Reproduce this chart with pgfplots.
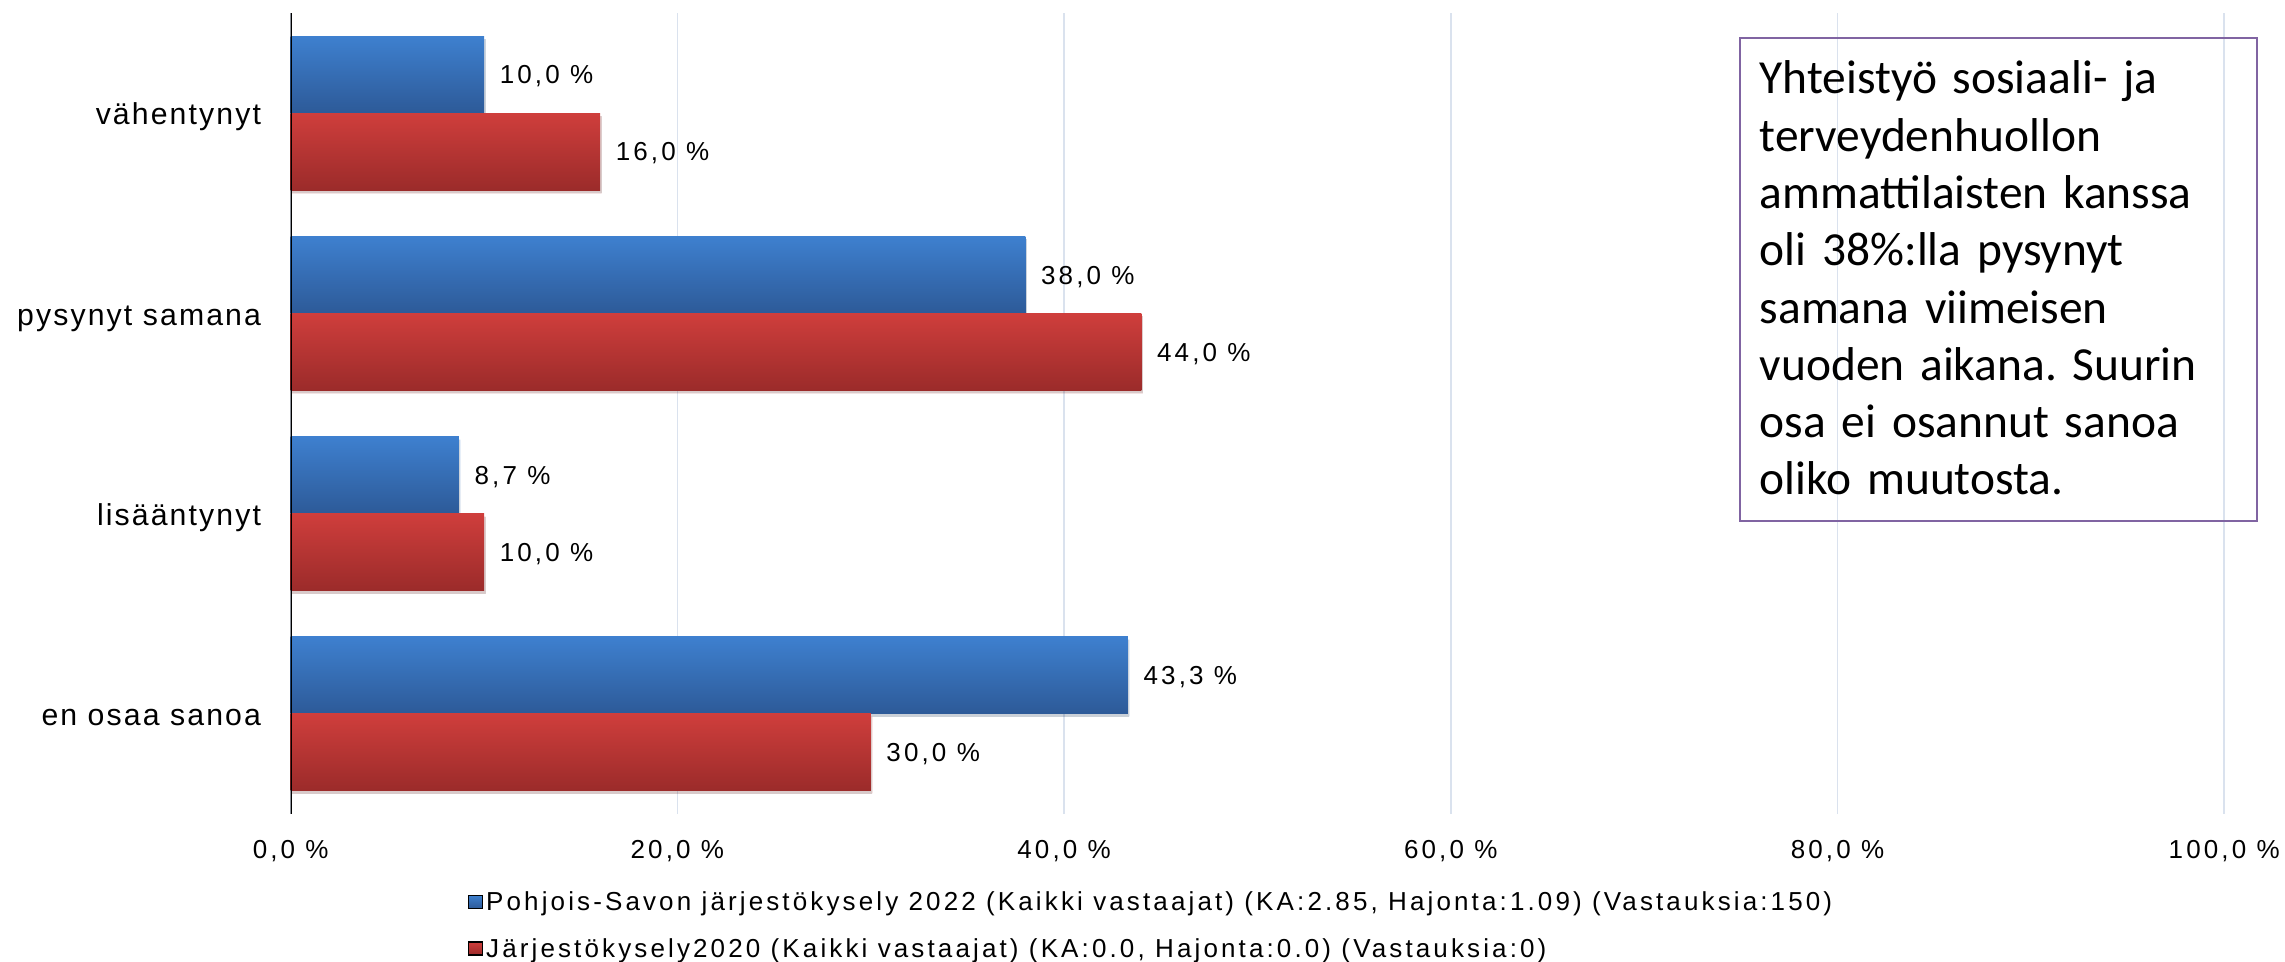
\documentclass[border=0pt]{standalone}
\usepackage{fontspec}
\setmainfont{Liberation Sans}[LetterSpace=12]
\newfontfamily\catfont{Liberation Sans}[LetterSpace=7]
\newfontfamily\carlito{Carlito}
\usepackage{pgfplots}
\pgfplotsset{compat=1.18}
\usetikzlibrary{shadows}
\definecolor{bluetop}{RGB}{62,128,207}
\definecolor{bluebot}{RGB}{45,90,152}
\definecolor{redtop}{RGB}{207,62,60}
\definecolor{redbot}{RGB}{155,43,42}
\definecolor{gridc}{RGB}{218,226,238}
\definecolor{boxpurple}{RGB}{128,100,162}
\newcommand\lfont{\fontsize{7.4}{9}\selectfont}
\newcommand\cfont{\catfont\fontsize{8.6}{10}\selectfont}
\pgfplotsset{
  barbase/.style={xbar, bar width=0.385, bar shift=0pt, draw=none, forget plot,
    drop shadow={shadow xshift=0.15mm, shadow yshift=-0.3mm, fill=black, opacity=0.12}},
  bluebar/.style={barbase, top color=bluetop, bottom color=bluebot},
  redbar/.style={barbase, top color=redtop, bottom color=redbot},
}
\frenchspacing
\begin{document}
\begin{tikzpicture}[x=1mm,y=1mm]
\useasboundingbox (0,0) rectangle (228.5,96.2);
\begin{axis}[
  at={(29.07mm,14.8mm)}, anchor=south west,
  scale only axis, width=193.35mm, height=80.1mm,
  xmin=0, xmax=100, ymin=-0.5, ymax=3.5,
  axis line style={draw=none},
  major tick length=0pt,
  xtick={0,20,40,60,80,100},
  ytick={0,1,2,3},
  yticklabels={en osaa sanoa, lisääntynyt, pysynyt samana, vähentynyt},
  xmajorgrids, grid style={gridc, line width=0.15mm},
  /pgf/number format/assume math mode=true,
  xticklabel={\pgfmathprintnumber[fixed,fixed zerofill,precision=1,use comma]{\tick}~\%},
  tick label style={font=\lfont, text=black},
  xticklabel style={inner sep=0pt, yshift=-2.5mm, text height=1.86mm, text depth=0pt},
  yticklabel style={font=\cfont, inner sep=0pt, xshift=-2.9mm, text height=2.35mm, text depth=0pt},
  point meta=x,
  nodes near coords={\pgfmathprintnumber[fixed,fixed zerofill,precision=1,use comma]{\pgfplotspointmeta}~\%},
  every node near coord/.append style={font=\lfont, inner sep=0pt, xshift=1.5mm, text=black,
    text height=1.86mm, text depth=0pt},
  legend style={at={(0.0912,-0.0974)}, anchor=north west, draw=none, fill=none, inner sep=0pt,
    font=\lfont, row sep=2.87mm,
    nodes={inner xsep=0.3mm, inner ysep=0pt, text height=1.8mm, text depth=0pt}},
  legend cell align=left,
  legend image code/.code={\fill[#1] (0mm,-0.65mm) rectangle (1.4mm,0.65mm);},
]
% Pohjois-Savon 2022 (blue), upper bar of each group
\addplot[bluebar] coordinates {(10.0,3.1925)};
\addplot[bluebar] coordinates {(38.0,2.1925)};
\addplot[bluebar] coordinates {(8.7,1.1925)};
\addplot[bluebar] coordinates {(43.3,0.1925)};
% Järjestökysely 2020 (red), lower bar of each group
\addplot[redbar] coordinates {(16.0,2.8075)};
\addplot[redbar] coordinates {(44.0,1.8075)};
\addplot[redbar] coordinates {(10.0,0.8075)};
\addplot[redbar] coordinates {(30.0,-0.1925)};
\addlegendimage{top color=bluetop, bottom color=bluebot}
\addlegendentry{Pohjois-Savon järjestökysely 2022 (Kaikki vastaajat) (KA:2.85, Hajonta:1.09) (Vastauksia:150)}
\addlegendimage{top color=redtop, bottom color=redbot}
\addlegendentry{Järjestökysely2020 (Kaikki vastaajat) (KA:0.0, Hajonta:0.0) (Vastauksia:0)}
\draw[black, line width=0.25mm] (axis cs:0,-0.5) -- (axis cs:0,3.5);
\end{axis}
\draw[boxpurple, line width=0.25mm] (174.0,44.1) rectangle (225.7,92.4);
\node[anchor=north west, inner sep=0pt, text width=50mm, align=left,
  font=\carlito\fontsize{13.5}{16.3}\selectfont] at (175.9,91.09)
  {\rule{0pt}{12pt}Yhteistyö sosiaali- ja\\ terveydenhuollon\\ ammattilaisten kanssa\\ oli 38\%:lla pysynyt\\ samana viimeisen\\ vuoden aikana. Suurin\\ osa ei osannut sanoa\\ oliko muutosta.};
\end{tikzpicture}
\end{document}
